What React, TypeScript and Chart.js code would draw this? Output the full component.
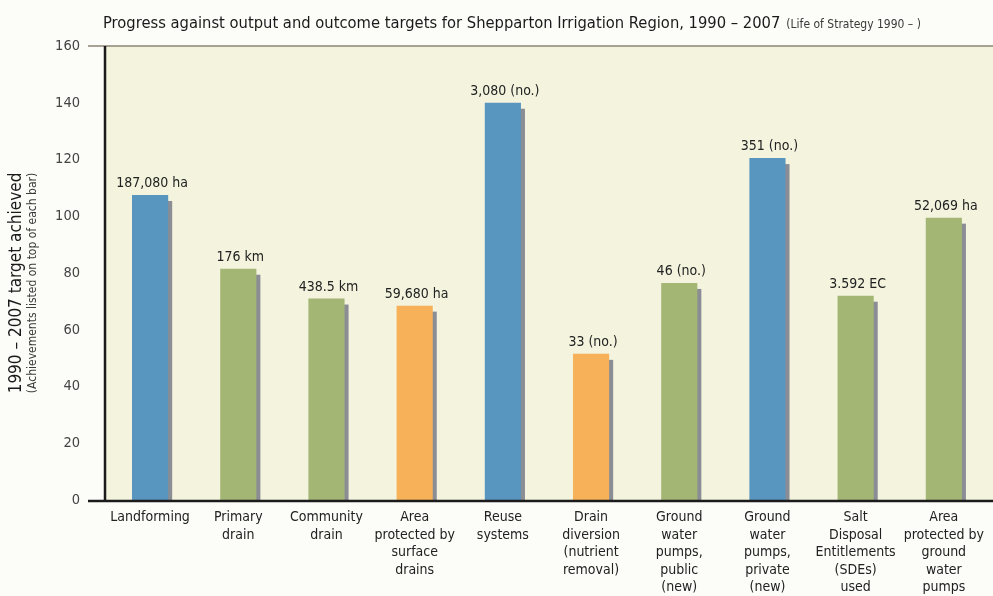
import React, { useEffect, useRef } from "react";
import { Chart, registerables } from "chart.js";

Chart.register(...registerables);

const FONT = '"Liberation Sans Narrow", "DejaVu Sans Condensed", "Arial Narrow", sans-serif';

const chartTitle = "Progress against output and outcome targets for Shepparton Irrigation Region, 1990 – 2007";
const chartSubtitle = "(Life of Strategy 1990 – )";
const yTitle = "1990 – 2007 target achieved";
const ySubtitle = "(Achievements listed on top of each bar)";

const categories: string[][] = [
  ["Landforming"],
  ["Primary", "drain"],
  ["Community", "drain"],
  ["Area", "protected by", "surface", "drains"],
  ["Reuse", "systems"],
  ["Drain", "diversion", "(nutrient", "removal)"],
  ["Ground", "water", "pumps,", "public", "(new)"],
  ["Ground", "water", "pumps,", "private", "(new)"],
  ["Salt", "Disposal", "Entitlements", "(SDEs)", "used"],
  ["Area", "protected by", "ground", "water", "pumps"],
];

const targetAchieved = [107.5, 81.5, 71, 68.5, 140, 51.5, 76.5, 120.5, 72, 99.5];

const achievementLabels = [
  "187,080 ha",
  "176 km",
  "438.5 km",
  "59,680 ha",
  "3,080 (no.)",
  "33 (no.)",
  "46 (no.)",
  "351 (no.)",
  "3.592 EC",
  "52,069 ha",
];

const barGroups = ["blue", "green", "green", "orange", "blue", "orange", "green", "blue", "green", "green"];

const yMin = 0;
const yMax = 160;
const yStep = 20;

const groupColors: Record<string, string> = {
  blue: "#5895bf",
  green: "#a3b674",
  orange: "#f6b159",
};

const shadowPlugin = {
  id: "barShadow",
  beforeDatasetsDraw(chart: any) {
    const ctx = chart.ctx;
    const meta = chart.getDatasetMeta(0);
    ctx.save();
    ctx.fillStyle = "#8b8d95";
    meta.data.forEach((el: any) => {
      const w = el.width;
      const left = el.x - w / 2 + 4;
      const top = el.y + 6;
      ctx.fillRect(left, top, w, el.base - top);
    });
    ctx.restore();
  },
};

const backgroundPlugin = {
  id: "bg",
  beforeDraw(chart: any) {
    const { ctx, chartArea, width, height } = chart;
    ctx.save();
    ctx.fillStyle = "#fcfcf9";
    ctx.fillRect(0, 0, width, height);
    ctx.fillStyle = "#f3f3de";
    ctx.fillRect(chartArea.left, chartArea.top, width - chartArea.left, chartArea.bottom - chartArea.top);
    ctx.restore();
  },
};

const decorPlugin = {
  id: "decor",
  afterDatasetsDraw(chart: any) {
    const { ctx, chartArea, width } = chart;
    const meta = chart.getDatasetMeta(0);
    ctx.save();
    // value labels
    ctx.fillStyle = "#222222";
    ctx.font = `14px ${FONT}`;
    ctx.textAlign = "center";
    ctx.textBaseline = "alphabetic";
    meta.data.forEach((el: any, i: number) => {
      ctx.fillText(achievementLabels[i], el.x + 2, el.y - 8);
    });

    // top border line
    ctx.strokeStyle = "#8d8574";
    ctx.lineWidth = 1.5;
    ctx.beginPath();
    ctx.moveTo(chartArea.left - 18, chartArea.top);
    ctx.lineTo(width, chartArea.top);
    ctx.stroke();

    // axes
    ctx.strokeStyle = "#1b1b1b";
    ctx.lineWidth = 2.5;
    ctx.beginPath();
    ctx.moveTo(chartArea.left - 1, chartArea.top);
    ctx.lineTo(chartArea.left - 1, chartArea.bottom);
    ctx.stroke();
    ctx.beginPath();
    ctx.moveTo(chartArea.left - 18, chartArea.bottom + 1);
    ctx.lineTo(width, chartArea.bottom + 1);
    ctx.stroke();

    // title
    ctx.textAlign = "left";
    ctx.fillStyle = "#1a1a1a";
    ctx.font = `16.4px ${FONT}`;
    const tx = 103;
    ctx.fillText(chartTitle, tx, 28);
    const tw = ctx.measureText(chartTitle).width;
    ctx.fillStyle = "#3a3a3a";
    ctx.font = `12px ${FONT}`;
    ctx.fillText(chartSubtitle, tx + tw + 6, 28);

    // y-axis title
    const cy = (chartArea.top + chartArea.bottom) / 2 + 10;
    ctx.save();
    ctx.translate(21, cy);
    ctx.rotate(-Math.PI / 2);
    ctx.textAlign = "center";
    ctx.fillStyle = "#1a1a1a";
    ctx.font = `17px ${FONT}`;
    ctx.fillText(yTitle, 0, 0);
    ctx.restore();
    ctx.save();
    ctx.translate(36, cy);
    ctx.rotate(-Math.PI / 2);
    ctx.textAlign = "center";
    ctx.fillStyle = "#3a3a3a";
    ctx.font = `12px ${FONT}`;
    ctx.fillText(ySubtitle, 0, 0);
    ctx.restore();

    ctx.restore();
  },
};

export default function App() {
  const canvasRef = useRef<HTMLCanvasElement | null>(null);

  useEffect(() => {
    document.body.style.margin = "0";
    const canvas = canvasRef.current;
    if (!canvas) return;
    const chart = new Chart(canvas, {
      type: "bar",
      data: {
        labels: categories,
        datasets: [
          {
            data: targetAchieved,
            backgroundColor: barGroups.map((g) => groupColors[g]),
            borderWidth: 0,
            categoryPercentage: 1,
            barPercentage: 0.41,
          },
        ],
      },
      options: {
        responsive: false,
        animation: false,
        devicePixelRatio: 1,
        layout: { padding: { top: 46, right: 0, bottom: 0, left: 0 } },
        plugins: {
          legend: { display: false },
          title: { display: false },
          tooltip: { enabled: false },
        },
        scales: {
          x: {
            type: "category",
            offset: true,
            grid: { display: false, drawTicks: false },
            border: { display: false },
            ticks: {
              color: "#222222",
              font: { family: FONT, size: 14, lineHeight: 1.25 },
              padding: 9,
              maxRotation: 0,
              minRotation: 0,
              autoSkip: false,
            },
            afterFit: (s: any) => {
              s.height = 96;
            },
          },
          y: {
            min: yMin,
            max: yMax,
            grid: { display: false, drawTicks: false },
            border: { display: false },
            ticks: {
              stepSize: yStep,
              color: "#444444",
              font: { family: FONT, size: 14.5 },
              padding: 26,
            },
            afterFit: (s: any) => {
              s.width = 106;
            },
          },
        },
      },
      plugins: [backgroundPlugin, shadowPlugin, decorPlugin],
    });
    return () => chart.destroy();
  }, []);

  return (
    <div style={{ width: 993, height: 596 }}>
      <canvas ref={canvasRef} width={993} height={596} style={{ display: "block" }} />
    </div>
  );
}
